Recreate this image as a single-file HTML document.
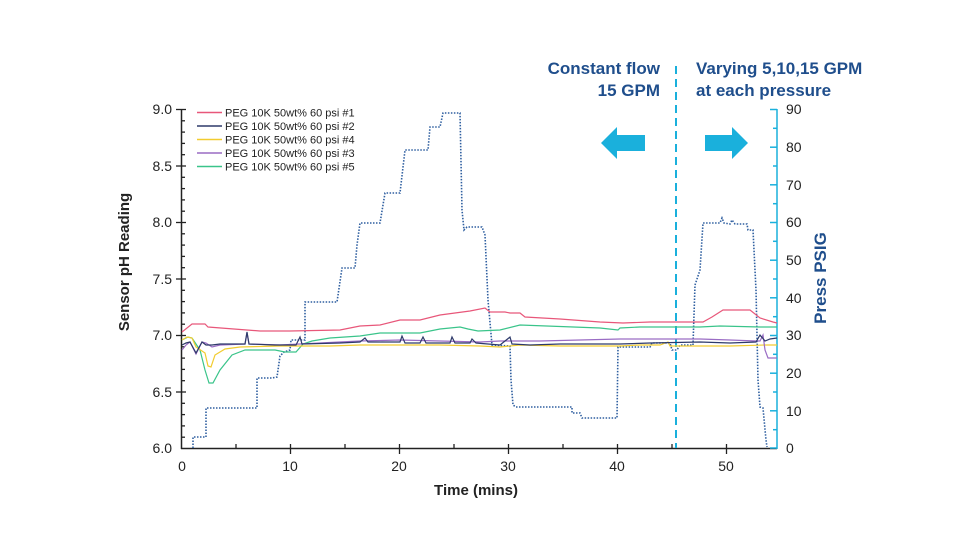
<!DOCTYPE html>
<html><head><meta charset="utf-8"><style>
html,body{margin:0;padding:0;background:#fff;}
svg{display:block;font-family:"Liberation Sans",sans-serif;}
</style></head><body>
<svg width="975" height="548" viewBox="0 0 975 548" xmlns="http://www.w3.org/2000/svg">
<rect width="975" height="548" fill="#fff"/>
<g stroke="#222" stroke-width="1.5" fill="none">
<line x1="181.5" y1="109" x2="181.5" y2="449"/>
<line x1="181" y1="448.5" x2="777" y2="448.5"/>
</g>
<g stroke="#222" stroke-width="1.3">
<line x1="176" y1="109.5" x2="186" y2="109.5"/><line x1="176" y1="166" x2="186" y2="166"/><line x1="176" y1="222.5" x2="186" y2="222.5"/><line x1="176" y1="279" x2="186" y2="279"/><line x1="176" y1="335.5" x2="186" y2="335.5"/><line x1="176" y1="392" x2="186" y2="392"/>
<line x1="181" y1="120.8" x2="185" y2="120.8"/><line x1="181" y1="132.1" x2="185" y2="132.1"/><line x1="181" y1="143.4" x2="185" y2="143.4"/><line x1="181" y1="154.7" x2="185" y2="154.7"/>
<line x1="181" y1="177.3" x2="185" y2="177.3"/><line x1="181" y1="188.6" x2="185" y2="188.6"/><line x1="181" y1="199.9" x2="185" y2="199.9"/><line x1="181" y1="211.2" x2="185" y2="211.2"/>
<line x1="181" y1="233.8" x2="185" y2="233.8"/><line x1="181" y1="245.1" x2="185" y2="245.1"/><line x1="181" y1="256.4" x2="185" y2="256.4"/><line x1="181" y1="267.7" x2="185" y2="267.7"/>
<line x1="181" y1="290.3" x2="185" y2="290.3"/><line x1="181" y1="301.6" x2="185" y2="301.6"/><line x1="181" y1="312.9" x2="185" y2="312.9"/><line x1="181" y1="324.2" x2="185" y2="324.2"/>
<line x1="181" y1="346.8" x2="185" y2="346.8"/><line x1="181" y1="358.1" x2="185" y2="358.1"/><line x1="181" y1="369.4" x2="185" y2="369.4"/><line x1="181" y1="380.7" x2="185" y2="380.7"/>
<line x1="181" y1="403.3" x2="185" y2="403.3"/><line x1="181" y1="414.6" x2="185" y2="414.6"/><line x1="181" y1="425.9" x2="185" y2="425.9"/><line x1="181" y1="437.2" x2="185" y2="437.2"/>
<line x1="290.5" y1="444" x2="290.5" y2="454"/><line x1="399.5" y1="444" x2="399.5" y2="454"/><line x1="508.5" y1="444" x2="508.5" y2="454"/><line x1="617.5" y1="444" x2="617.5" y2="454"/><line x1="726.5" y1="444" x2="726.5" y2="454"/>
<line x1="236" y1="448" x2="236" y2="444"/><line x1="345" y1="448" x2="345" y2="444"/><line x1="454" y1="448" x2="454" y2="444"/><line x1="563" y1="448" x2="563" y2="444"/><line x1="672" y1="448" x2="672" y2="444"/>
</g>
<g font-size="14" fill="#222" text-anchor="end">
<text x="172" y="114">9.0</text><text x="172" y="171">8.5</text><text x="172" y="227">8.0</text><text x="172" y="284">7.5</text><text x="172" y="340">7.0</text><text x="172" y="397">6.5</text><text x="172" y="453">6.0</text>
</g>
<g font-size="14" fill="#222" text-anchor="middle">
<text x="182" y="471">0</text><text x="290" y="471">10</text><text x="399" y="471">20</text><text x="508" y="471">30</text><text x="617" y="471">40</text><text x="726" y="471">50</text>
</g>
<text x="476" y="495" font-size="15" font-weight="bold" fill="#222" text-anchor="middle">Time (mins)</text>
<text transform="translate(129,262) rotate(-90)" font-size="15" font-weight="bold" fill="#222" text-anchor="middle">Sensor pH Reading</text>
<!-- right axis -->
<g stroke="#1ab0dc" stroke-width="1.5">
<line x1="777" y1="109" x2="777" y2="449"/>
<line x1="770" y1="109.5" x2="777" y2="109.5"/><line x1="770" y1="147.2" x2="777" y2="147.2"/><line x1="770" y1="184.8" x2="777" y2="184.8"/><line x1="770" y1="222.5" x2="777" y2="222.5"/><line x1="770" y1="260.2" x2="777" y2="260.2"/><line x1="770" y1="297.8" x2="777" y2="297.8"/><line x1="770" y1="335.5" x2="777" y2="335.5"/><line x1="770" y1="373.2" x2="777" y2="373.2"/><line x1="770" y1="410.8" x2="777" y2="410.8"/><line x1="770" y1="448" x2="777" y2="448"/>
<line x1="773" y1="128.3" x2="777" y2="128.3"/><line x1="773" y1="166" x2="777" y2="166"/><line x1="773" y1="203.7" x2="777" y2="203.7"/><line x1="773" y1="241.3" x2="777" y2="241.3"/><line x1="773" y1="279" x2="777" y2="279"/><line x1="773" y1="316.7" x2="777" y2="316.7"/><line x1="773" y1="354.3" x2="777" y2="354.3"/><line x1="773" y1="392" x2="777" y2="392"/><line x1="773" y1="429.7" x2="777" y2="429.7"/>
</g>
<g font-size="14" fill="#222">
<text x="786" y="114">90</text><text x="786" y="152">80</text><text x="786" y="190">70</text><text x="786" y="227">60</text><text x="786" y="265">50</text><text x="786" y="303">40</text><text x="786" y="340">30</text><text x="786" y="378">20</text><text x="786" y="416">10</text><text x="786" y="453">0</text>
</g>
<text transform="translate(826,278) rotate(-90)" font-size="17" font-weight="bold" fill="#1f4e8c" text-anchor="middle">Press PSIG</text>
<!-- annotations -->
<line x1="676" y1="66" x2="676" y2="448" stroke="#1ab0dc" stroke-width="2" stroke-dasharray="8,5"/>
<g font-size="17" font-weight="bold" fill="#1f4e8c">
<text x="660" y="74" text-anchor="end">Constant flow</text><text x="660" y="96" text-anchor="end">15 GPM</text>
<text x="696" y="74">Varying 5,10,15 GPM</text><text x="696" y="96">at each pressure</text>
</g>
<polygon points="601,143 617,127 617,135 645,135 645,151 617,151 617,159" fill="#1ab0dc"/>
<polygon points="748,143 732,127 732,135 705,135 705,151 732,151 732,159" fill="#1ab0dc"/>
<!-- pressure dotted -->
<polyline fill="none" stroke="#2f5fa0" stroke-width="1.6" stroke-dasharray="1.5,1.5" points="193,448 193,437 206,437 206,408 257,408 257,378 272,378 277,377 280,356 284,352 290,350 291,340 305,340 305,302 337,302 342,268 355,268 357,245 360,223 380,223 385,193 400,193 405,150 428,150 430,127 440,127 443,113 460,113 462,210 464,230 467,227 482,227 485,235 488,300 492,345 510,346 511,380 513,405 516,407 572,407 572,413 580,413 582,418 617,418 618,347 650,347 652,343 670,343 672,350 677,350 680,345 693,345 695,285 700,270 703,223 720,223 722,218 724,223 730,224 732,220 735,224 747,224 748,230 753,230 756,290 758,380 760,407 763,408 766,440 767,447"/>
<!-- series -->
<polyline fill="none" stroke="#e8577a" stroke-width="1.2" points="182,332 192,324 205,324 208,327 260,331 290,331 340,330 345,329 360,326 380,325 400,320 420,320 440,315 470,311 485,308 490,312 505,312 510,313 520,313 525,317 560,319 600,322 623,323 650,322 670,322 703,322 712,317 723,310 750,310 760,318 773,322 777,323"/>
<polyline fill="none" stroke="#3ac48a" stroke-width="1.2" points="182,340 188,337 192,338 200,350 205,370 209,383 213,383 220,370 232,355 245,350 275,350 285,352 296,352 303,344 312,341 330,338 360,336 380,333 420,333 440,329 460,327 468,329 478,331 500,330 520,325 600,328 618,330 620,328 640,327 700,327 720,326 760,327 773,327 777,327"/>
<polyline fill="none" stroke="#f2cc30" stroke-width="1.2" points="182,340 187,337 192,338 196,347 205,353 208,366 211,367 215,355 225,349 240,347 280,346 300,346 330,346 360,345 400,345 440,345 480,346 500,347 520,345 560,346 620,346 640,345 660,345 668,342 670,346 700,346 730,346 765,345 777,345"/>
<polyline fill="none" stroke="#9a6cc4" stroke-width="1.2" points="182,350 186,345 190,342 196,354 202,342 206,343 212,347 220,345 245,344 247,333 249,344 280,345 300,344 340,342 360,341 400,340 440,341 480,342 500,341 540,341 580,340 620,339 650,339 700,339 730,340 756,341 760,341 763,335 765,350 768,358 777,358"/>
<polyline fill="none" stroke="#2e3a6a" stroke-width="1.2" points="182,345 186,343 190,342 196,353 202,342 206,345 212,345 220,344 245,344 247,332 249,344 275,345 290,345 296,345 300,337 302,344 340,343 360,342 365,338 368,342 400,342 402,336 405,343 420,343 423,337 426,343 450,343 452,337 455,343 470,343 472,339 476,343 500,345 510,337 512,344 530,345 560,344 580,344 620,344 650,343 700,342 730,343 756,342 760,335 765,341 770,339 777,338"/>
<!-- legend -->
<g stroke-width="1.6">
<line x1="197" y1="112.5" x2="222" y2="112.5" stroke="#e8577a"/>
<line x1="197" y1="126" x2="222" y2="126" stroke="#2e3a6a"/>
<line x1="197" y1="139.5" x2="222" y2="139.5" stroke="#f2cc30"/>
<line x1="197" y1="153" x2="222" y2="153" stroke="#9a6cc4"/>
<line x1="197" y1="166.5" x2="222" y2="166.5" stroke="#3ac48a"/>
</g>
<g font-size="11" fill="#222">
<text x="225" y="116.5">PEG 10K 50wt% 60 psi #1</text>
<text x="225" y="130">PEG 10K 50wt% 60 psi #2</text>
<text x="225" y="143.5">PEG 10K 50wt% 60 psi #4</text>
<text x="225" y="157">PEG 10K 50wt% 60 psi #3</text>
<text x="225" y="170.5">PEG 10K 50wt% 60 psi #5</text>
</g>
</svg>
</body></html>
